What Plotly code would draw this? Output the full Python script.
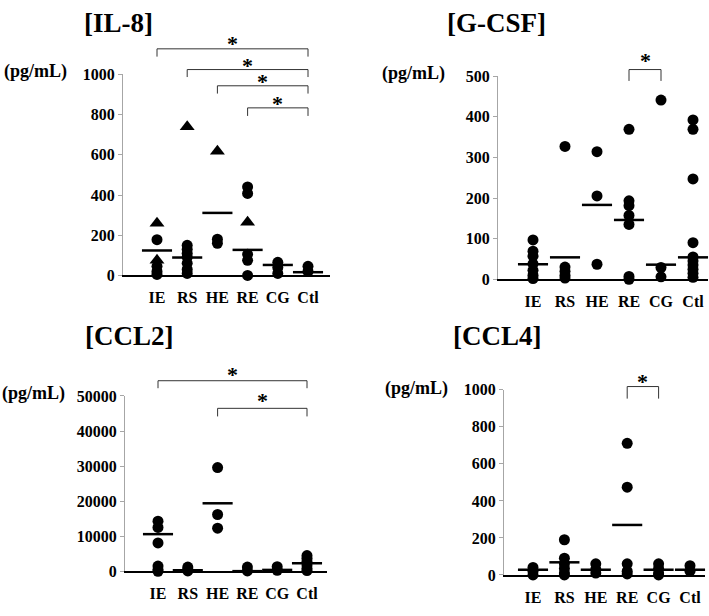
import plotly.graph_objects as go

W, H = 709, 616
FONT = "Liberation Serif"

# ---------------- data ----------------
categories = ["IE", "RS", "HE", "RE", "CG", "Ctl"]

# IL-8 (pg/mL)
il8_circles = [[178, 45, 20, 5], [150, 130, 110, 90, 60, 30, 10], [180, 160],
               [440, 408, 105, 75, 0], [65, 40, 10, -15], [45, 20, -15]]
il8_triangles = [[260, 75], [740], [618], [265], [], []]
il8_means = [124, 89, 311, 127, 52, 16]
il8_pairs = [("IE", "Ctl"), ("RS", "Ctl"), ("HE", "Ctl"), ("RE", "Ctl")]

# G-CSF (pg/mL)
gcsf_circles = [[97, 69, 57, 38, 22, 10, 2], [327, 30, 20, 10, 3], [314, 205, 37],
                [369, 193, 181, 157, 135, 7, 0], [441, 29, 6],
                [392, 369, 247, 90, 55, 45, 35, 25, 15, 5, -5]]
gcsf_triangles = [[], [], [], [], [], []]
gcsf_means = [37, 54, 183, 146, 36, 54]
gcsf_pairs = [("RE", "CG")]

# CCL2 (pg/mL)
ccl2_circles = [[14300, 12500, 8100, 1500, 500, 0], [1200, 600, 100],
                [29600, 16200, 12300], [1200, 100], [1300, 300],
                [4500, 3700, 2800, 1800, 800, 200]]
ccl2_triangles = [[], [], [], [], [], []]
ccl2_means = [10600, 300, 19400, 50, 400, 2300]
ccl2_pairs = [("IE", "Ctl"), ("HE", "Ctl")]

# CCL4 (pg/mL)
ccl4_circles = [[40, 20, 0], [190, 90, 60, 35, 10, 0], [60, 30, 10],
                [711, 474, 60, 20, 5], [60, 35, 10, 0], [50, 20, -10]]
ccl4_triangles = [[], [], [], [], [], []]
ccl4_means = [28, 68, 28, 270, 28, 28]
ccl4_pairs = [("RE", "CG")]

titles = ["[IL-8]", "[G-CSF]", "[CCL2]", "[CCL4]"]
unit_label = "(pg/mL)"
y_tops = [1000, 500, 50000, 1000]
y_dticks = [200, 100, 10000, 200]

# ---------------- layout (pixel geometry) ----------------
panels = [
    dict(circles=il8_circles, tris=il8_triangles, means=il8_means, pairs=il8_pairs,
         axis_px=123, right_px=330, first_px=157, last_px=308, zero_px=275, top_px=68.3,
         title_xy=(118, 15), unit_xy=(2, 65),
         br=[(42, 50, 34), (63.3, 71, 56), (80, 88, 73), (102.7, 111, 95)]),
    dict(circles=gcsf_circles, tris=gcsf_triangles, means=gcsf_means, pairs=gcsf_pairs,
         axis_px=498, right_px=708, first_px=533, last_px=693, zero_px=279, top_px=70,
         title_xy=(496, 15), unit_xy=(380, 67),
         br=[(63.3, 75, 51)]),
    dict(circles=ccl2_circles, tris=ccl2_triangles, means=ccl2_means, pairs=ccl2_pairs,
         axis_px=125, right_px=327, first_px=158, last_px=307, zero_px=579.3, top_px=399,
         title_xy=(129, 337), unit_xy=(0, 396),
         br=[(383.3, 391, 374), (411.7, 420, 401)]),
    dict(circles=ccl4_circles, tris=ccl4_triangles, means=ccl4_means, pairs=ccl4_pairs,
         axis_px=504, right_px=705, first_px=533, last_px=690, zero_px=583, top_px=392.7,
         title_xy=(497, 337), unit_xy=(383, 391),
         br=[(389.3, 401.7, 381)]),
]


def fx(p):
    return p / W


def fy(p):
    return 1 - p / H


fig = go.Figure()
layout = dict(width=W, height=H, margin=dict(l=0, r=0, t=0, b=0),
              paper_bgcolor="white", plot_bgcolor="white", showlegend=False,
              font=dict(family=FONT, color="black"))
shapes, annotations = [], []

for k, p in enumerate(panels):
    n = "" if k == 0 else str(k + 1)
    xa, ya = "x" + n, "y" + n
    sp = (p["last_px"] - p["first_px"]) / 5
    xr = [(p["axis_px"] - p["first_px"]) / sp, 5 + (p["right_px"] - p["last_px"]) / sp]

    cx, cy, tx, ty = [], [], [], []
    for i, cat in enumerate(categories):
        for v in p["circles"][i]:
            cx.append(i); cy.append(v)
        for v in p["tris"][i]:
            tx.append(i); ty.append(v)
    fig.add_trace(go.Scatter(x=cx, y=cy, mode="markers", xaxis=xa, yaxis=ya, cliponaxis=False,
                             marker=dict(symbol="circle", size=11, color="black")))
    if tx:
        fig.add_trace(go.Scatter(x=tx, y=ty, mode="markers", xaxis=xa, yaxis=ya, cliponaxis=False,
                                 marker=dict(symbol="triangle-up", size=13, color="black")))
    fig.add_trace(go.Scatter(x=list(range(len(categories))), y=p["means"], mode="markers",
                             xaxis=xa, yaxis=ya, cliponaxis=False,
                             marker=dict(symbol="line-ew", size=21.5, color="black",
                                         line=dict(color="black", width=2.5))))

    layout["xaxis" + n] = dict(domain=[fx(p["axis_px"]), fx(p["right_px"])], range=xr,
                               anchor=ya, tickvals=list(range(len(categories))), ticktext=categories,
                               showline=True, linecolor="black", linewidth=1.5, ticks="",
                               showgrid=False, zeroline=False, ticklabelstandoff=7,
                               tickfont=dict(family=FONT, size=16, color="black", weight=700))
    layout["yaxis" + n] = dict(domain=[fy(p["zero_px"]), fy(p["top_px"])], range=[0, y_tops[k]],
                               anchor=xa, tick0=0, dtick=y_dticks[k], showline=True, tickformat="d",
                               linecolor="#a6a6a6", linewidth=1, ticks="outside", ticklen=4,
                               tickcolor="#a6a6a6", showgrid=False, zeroline=False,
                               tickfont=dict(family=FONT, size=16, color="black", weight=700))

    # significance brackets
    for (a, b), (top, bot, star) in zip(p["pairs"], p["br"]):
        i0, i1 = categories.index(a), categories.index(b)
        shapes.append(dict(type="path", xref=xa, yref="paper",
                           path=f"M {i0},{fy(bot)} L {i0},{fy(top)} L {i1},{fy(top)} L {i1},{fy(bot)}",
                           line=dict(color="#333333", width=1)))
        annotations.append(dict(xref=xa, yref="paper", x=(i0 + i1) / 2, y=fy(star + 3),
                                text="*", showarrow=False, xanchor="center", yanchor="middle",
                                font=dict(family=FONT, size=22, color="black", weight=700)))

    annotations.append(dict(xref="paper", yref="paper", x=fx(p["title_xy"][0]), y=fy(p["title_xy"][1]),
                            text=titles[k], showarrow=False, xanchor="center", yanchor="middle",
                            font=dict(family=FONT, size=27, color="black", weight=700)))
    annotations.append(dict(xref="paper", yref="paper", x=fx(p["unit_xy"][0]), y=fy(p["unit_xy"][1]),
                            text=unit_label, showarrow=False, xanchor="left", yanchor="middle",
                            font=dict(family=FONT, size=18, color="black", weight=700)))

layout["shapes"] = shapes
layout["annotations"] = annotations
fig.update_layout(**layout)
fig.write_html("out.html", config={"displayModeBar": False},
               post_script="document.body.style.margin='0';document.body.style.overflow='hidden';")
